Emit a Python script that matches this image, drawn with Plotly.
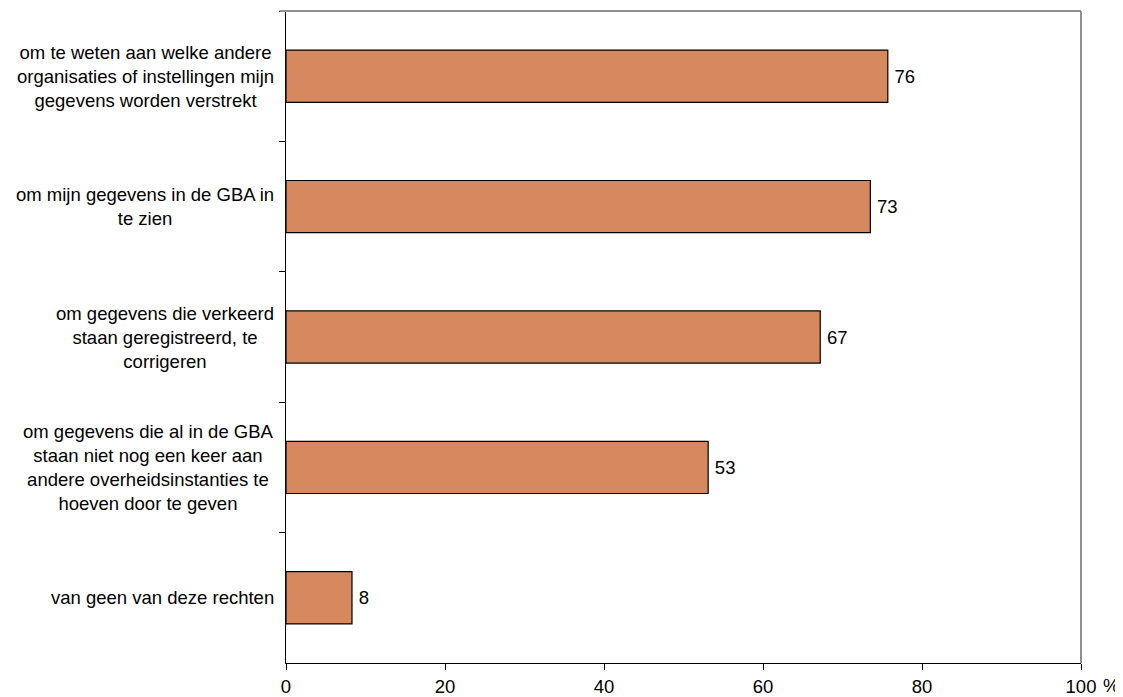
import plotly.graph_objects as go

categories = [
    "om te weten aan welke andere<br>organisaties of instellingen mijn<br>gegevens worden verstrekt",
    "om mijn gegevens in de GBA in<br>te zien",
    "om gegevens die verkeerd<br>staan geregistreerd, te<br>corrigeren",
    "om gegevens die al in de GBA<br>staan niet nog een keer aan<br>andere overheidsinstanties te<br>hoeven door te geven",
    "van geen van deze rechten",
]
values = [75.7, 73.5, 67.2, 53.1, 8.3]
value_labels = ["76", "73", "67", "53", "8"]
x_ticks = [0, 20, 40, 60, 80, 100]
x_ticktext = ["0", "20", "40", "60", "80", "100"]

FONT = "Liberation Sans, Arial, sans-serif"
FS = 18.5

fig = go.Figure(
    go.Bar(
        x=values,
        y=categories,
        orientation="h",
        marker=dict(color="#D6895E", line=dict(color="black", width=1.2)),
        text=value_labels,
        texttemplate="\u2009%{text}",
        textposition="outside",
        textfont=dict(size=FS, color="black", family=FONT),
        cliponaxis=False,
        hoverinfo="skip",
    )
)

annotations = []
for c in categories:
    annotations.append(
        dict(
            x=0, xref="paper", y=c, yref="y",
            text=c, showarrow=False, xanchor="right", yanchor="middle",
            align="center", xshift=-10,
            font=dict(size=FS, color="black", family=FONT),
        )
    )
annotations.append(
    dict(
        x=100, xref="x", y=0, yref="paper", text="%", showarrow=False,
        xanchor="center", yanchor="middle", xshift=30, yshift=-22,
        borderpad=0,
        font=dict(size=FS, color="black", family=FONT),
    )
)

fig.update_layout(
    width=1115, height=689,
    margin=dict(l=278, r=42, t=3, b=34, autoexpand=False),
    paper_bgcolor="white", plot_bgcolor="white",
    bargap=0.6,
    showlegend=False,
    font=dict(family=FONT, size=FS, color="black"),
    annotations=annotations,
    shapes=[
        dict(type="line", xref="paper", yref="paper", x0=-0.008, x1=1, y0=1, y1=1,
             line=dict(color="#909090", width=2)),
        dict(type="line", xref="paper", yref="paper", x0=1, x1=1, y0=0, y1=1,
             line=dict(color="#909090", width=2)),
    ],
)
fig.update_xaxes(
    range=[0, 100], tickvals=x_ticks, ticktext=x_ticktext,
    showgrid=False, zeroline=False, showline=True, linecolor="black", linewidth=1.2,
    ticks="outside", ticklen=6, tickcolor="black", tickwidth=1.2,
    ticklabelstandoff=1, automargin=False,
    tickfont=dict(size=FS, color="black", family=FONT),
)
fig.update_yaxes(
    categoryorder="array", categoryarray=categories, autorange="reversed",
    showticklabels=False, showgrid=False, zeroline=False,
    showline=True, linecolor="black", linewidth=1.2,
    ticks="outside", ticklen=6, tickcolor="black", tickwidth=1.2,
    tickson="boundaries", automargin=False,
)

fig.write_html("out.html")
